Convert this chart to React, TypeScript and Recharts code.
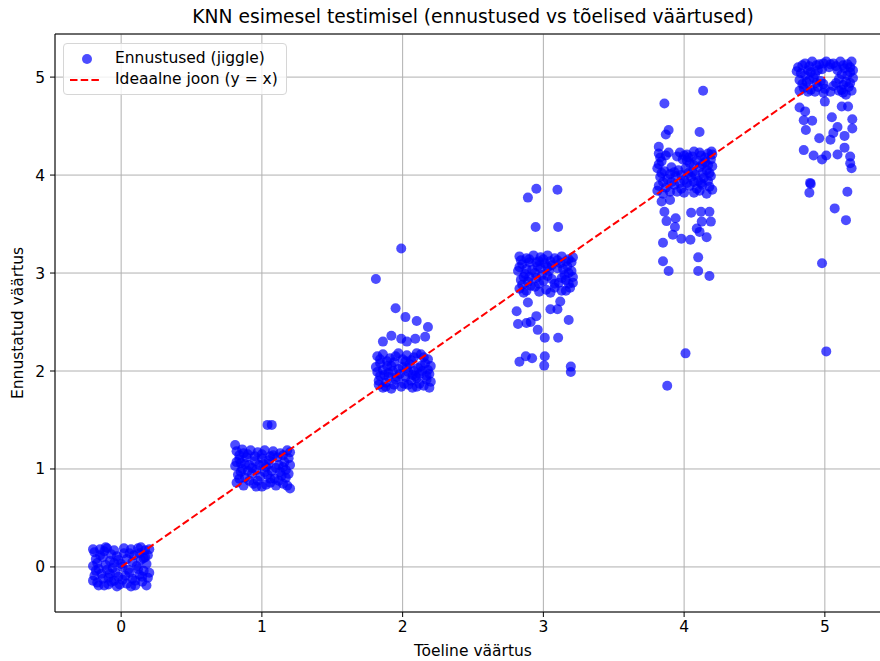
// KNN scatter: predicted vs actual values with jiggle, plus ideal y = x line

import { ScatterChart, Scatter, XAxis, YAxis, CartesianGrid, ReferenceLine } from "recharts";

const xTicks = [0, 1, 2, 3, 4, 5];
const yTicks = [0, 1, 2, 3, 4, 5];

// [actual + jiggle, predicted + jiggle] per true class
const group0: [number, number][] = [
  [-0.19, 0.15], [-0.15, 0.18], [-0.1, 0.19], [-0.05, 0.17], [0.02, 0.19], [0.07, 0.18], [0.12, 0.19], [0.17, 0.17], [0.19, 0.12],
  [-0.18, 0.08], [-0.13, 0.1], [-0.08, 0.06], [-0.03, 0.11], [0.04, 0.08], [0.09, 0.12], [0.14, 0.07], [0.18, 0.03],
  [-0.2, 0.01], [-0.16, -0.02], [-0.11, 0.02], [-0.06, -0.01], [0.0, 0.03], [0.05, -0.03], [0.11, 0.01], [0.16, -0.04],
  [-0.19, -0.09], [-0.14, -0.07], [-0.09, -0.11], [-0.04, -0.06], [0.03, -0.09], [0.08, -0.12], [0.13, -0.08], [0.19, -0.11],
  [-0.17, -0.16], [-0.12, -0.19], [-0.07, -0.15], [-0.01, -0.18], [0.04, -0.17], [0.1, -0.19], [0.15, -0.15], [0.18, -0.19],
  [-0.2, -0.14], [-0.05, 0.04], [0.06, 0.14], [-0.15, 0.12], [0.12, -0.02], [-0.1, -0.03], [0.01, -0.13], [0.17, 0.1], [-0.03, -0.2],
  [-0.17, 0.04], [-0.12, 0.16], [-0.07, 0.13], [-0.02, 0.07], [0.02, 0.14], [0.08, 0.05], [0.13, 0.14], [0.16, 0.09],
  [-0.18, -0.04], [-0.13, -0.12], [-0.08, -0.07], [-0.02, -0.1], [0.06, -0.06], [0.1, -0.14], [0.15, -0.1], [0.2, -0.06],
  [-0.16, -0.19], [-0.09, -0.18], [0.07, -0.2], [0.2, 0.18], [-0.2, 0.18], [0.01, 0.0], [-0.05, -0.14], [0.14, 0.2], [-0.11, 0.2],
];

const group1: [number, number][] = [
  [0.82, 1.18], [0.87, 1.16], [0.92, 1.19], [0.97, 1.17], [1.02, 1.19], [1.08, 1.18], [1.13, 1.16], [1.18, 1.19],
  [0.84, 1.1], [0.89, 1.12], [0.95, 1.08], [1.0, 1.11], [1.05, 1.09], [1.11, 1.12], [1.16, 1.07], [1.19, 1.11],
  [0.81, 1.03], [0.86, 1.0], [0.91, 1.04], [0.96, 0.99], [1.03, 1.02], [1.07, 0.98], [1.12, 1.04], [1.17, 0.99],
  [0.83, 0.94], [0.88, 0.91], [0.93, 0.95], [0.99, 0.92], [1.04, 0.94], [1.09, 0.9], [1.14, 0.93], [1.19, 0.95],
  [0.82, 0.86], [0.87, 0.83], [0.94, 0.85], [1.0, 0.82], [1.06, 0.86], [1.1, 0.83], [1.15, 0.85], [1.2, 0.8],
  [0.9, 0.98], [1.01, 1.05], [0.85, 1.06], [1.13, 0.97], [0.97, 0.88], [1.08, 1.14],
  [0.84, 1.14], [0.9, 1.15], [0.95, 1.13], [1.0, 1.15], [1.06, 1.13], [1.15, 1.14], [0.82, 1.07], [0.88, 1.05],
  [0.93, 1.01], [0.98, 1.04], [1.05, 1.05], [1.1, 1.01], [1.15, 1.02], [1.2, 1.04], [0.85, 0.97], [0.91, 0.88],
  [1.02, 0.97], [1.06, 0.9], [1.12, 0.88], [1.17, 0.91], [0.84, 0.9], [0.96, 0.82], [1.03, 0.84], [1.18, 0.83],
  [1.2, 1.17], [0.86, 1.2],
  [0.81, 1.245], [1.04, 1.45], [1.07, 1.45],
];

const group2: [number, number][] = [
  [1.82, 2.15], [1.86, 2.17], [1.91, 2.13], [1.97, 2.18], [2.03, 2.16], [2.08, 2.14], [2.13, 2.17], [2.18, 2.12],
  [1.84, 2.08], [1.89, 2.05], [1.94, 2.09], [2.0, 2.04], [2.05, 2.07], [2.11, 2.03], [2.16, 2.08], [2.2, 2.05],
  [1.82, 1.99], [1.87, 1.96], [1.93, 2.0], [1.98, 1.97], [2.04, 1.99], [2.09, 1.95], [2.14, 2.0], [2.19, 1.97],
  [1.83, 1.9], [1.88, 1.88], [1.95, 1.91], [2.01, 1.87], [2.06, 1.9], [2.12, 1.87], [2.17, 1.91],
  [1.86, 1.83], [1.92, 1.82], [1.99, 1.84], [2.07, 1.83], [2.15, 1.85], [2.19, 1.83],
  [1.9, 1.94], [2.02, 2.1], [2.1, 1.93],
  [1.84, 2.12], [1.89, 2.1], [1.95, 2.15], [2.0, 2.12], [2.06, 2.11], [2.1, 2.18], [2.15, 2.14], [1.81, 2.04],
  [1.86, 2.01], [1.92, 2.05], [1.97, 2.02], [2.03, 2.03], [2.08, 2.0], [2.13, 2.05], [2.18, 2.01], [1.84, 1.95],
  [1.9, 1.98], [1.96, 1.94], [2.02, 1.94], [2.07, 1.96], [2.12, 1.97], [2.17, 1.95], [1.83, 1.86], [1.94, 1.86],
  [2.04, 1.86], [2.1, 1.84], [2.2, 1.89], [1.88, 1.84],
  [1.99, 3.25], [1.81, 2.94], [1.95, 2.64], [2.02, 2.55], [2.1, 2.51], [2.18, 2.45],
  [1.86, 2.3], [1.92, 2.36], [1.99, 2.33], [2.03, 2.3], [2.09, 2.33], [2.16, 2.35],
];

const group3: [number, number][] = [
  [2.83, 3.17], [2.88, 3.15], [2.93, 3.18], [2.98, 3.16], [3.03, 3.18], [3.08, 3.15], [3.13, 3.17], [3.18, 3.14],
  [2.85, 3.09], [2.9, 3.11], [2.96, 3.07], [3.01, 3.1], [3.06, 3.08], [3.12, 3.1], [3.17, 3.07], [3.2, 3.11],
  [2.82, 3.02], [2.87, 2.99], [2.92, 3.03], [2.99, 2.98], [3.04, 3.02], [3.15, 2.98], [3.2, 3.02],
  [2.84, 2.93], [2.89, 2.91], [2.95, 2.95], [3.0, 2.92], [3.06, 2.94], [3.11, 2.9], [3.16, 2.93], [3.21, 2.9],
  [2.83, 2.84], [2.88, 2.82], [2.94, 2.86], [3.02, 2.83], [3.08, 2.85], [3.13, 2.82], [3.19, 2.85],
  [2.86, 2.96], [2.97, 3.12], [3.1, 3.05], [2.91, 2.87],
  [2.84, 3.13], [2.9, 3.14], [2.95, 3.11], [3.0, 3.14], [3.05, 3.12], [3.1, 3.13], [3.16, 3.12], [3.21, 3.16],
  [2.83, 3.06], [2.88, 3.04], [2.94, 3.0], [2.98, 3.05], [3.03, 3.06], [3.14, 3.04], [3.18, 3.0],
  [2.85, 2.88], [2.9, 2.96], [2.97, 2.89], [3.03, 2.97], [3.08, 2.89], [3.13, 2.95], [3.18, 2.89],
  [2.86, 2.8], [2.97, 2.81], [3.05, 2.8], [3.16, 2.82], [3.21, 2.96],
  [2.95, 3.86], [2.89, 3.77], [3.1, 3.85], [2.945, 3.47], [3.105, 3.47],
  [2.89, 2.7], [3.12, 2.71], [2.81, 2.61], [3.05, 2.63], [3.1, 2.63], [2.95, 2.56], [3.18, 2.52],
  [2.82, 2.48], [2.88, 2.49], [2.91, 2.5], [2.96, 2.42], [3.01, 2.34], [3.105, 2.34],
  [2.83, 2.095], [2.875, 2.15], [2.92, 2.13], [3.01, 2.15], [3.006, 2.055], [3.195, 2.045], [3.195, 1.99],
];

const group4: [number, number][] = [
  [3.82, 4.22], [3.87, 4.2], [3.97, 4.23], [4.02, 4.21], [4.07, 4.24], [4.12, 4.2], [4.17, 4.22],
  [3.84, 4.14], [3.99, 4.16], [4.04, 4.12], [4.09, 4.15], [4.15, 4.13], [4.19, 4.16],
  [3.81, 4.07], [3.86, 4.04], [3.91, 4.08], [3.96, 4.05], [4.01, 4.07], [4.06, 4.03], [4.11, 4.08], [4.16, 4.05], [4.2, 4.09],
  [3.83, 3.98], [3.88, 3.96], [3.94, 3.99], [4.0, 3.95], [4.05, 3.98], [4.1, 3.94], [4.14, 3.97], [4.19, 3.99],
  [3.82, 3.89], [3.87, 3.87], [3.93, 3.9], [3.98, 3.86], [4.04, 3.89], [4.09, 3.86], [4.13, 3.9], [4.18, 3.88],
  [3.85, 3.81], [3.95, 3.83], [4.07, 3.82], [4.16, 3.81], [3.9, 4.01], [4.03, 4.18],
  [3.83, 4.18], [3.89, 4.23], [3.95, 4.19], [4.0, 4.2], [4.06, 4.19], [4.11, 4.23], [4.15, 4.18], [4.2, 4.21],
  [3.82, 4.11], [4.02, 4.15], [4.07, 4.1], [4.13, 4.11], [4.17, 4.1], [3.84, 4.02], [3.93, 4.03],
  [3.98, 4.0], [4.03, 4.02], [4.08, 4.0], [4.13, 4.02], [4.18, 4.02], [3.85, 3.93], [3.91, 3.93], [3.97, 3.92],
  [4.02, 3.92], [4.07, 3.93], [4.12, 3.92], [4.17, 3.94], [3.9, 3.83], [4.0, 3.82], [4.11, 3.84], [4.2, 3.85], [3.81, 3.84],
  [4.135, 4.86], [3.86, 4.73], [3.89, 4.46], [3.87, 4.415], [4.11, 4.44], [3.82, 4.29], [4.195, 4.24],
  [3.84, 3.73], [3.9, 3.745], [3.86, 3.625], [3.875, 3.53], [3.94, 3.56], [3.935, 3.47], [3.92, 3.39],
  [3.98, 3.35], [4.045, 3.34], [4.05, 3.615], [4.12, 3.625], [4.18, 3.625], [4.125, 3.525], [4.19, 3.525],
  [4.09, 3.455], [4.11, 3.42], [4.16, 3.365], [3.85, 3.31], [3.85, 3.12], [3.89, 3.02],
  [4.1, 3.16], [4.1, 3.02], [4.18, 2.97], [4.01, 2.18], [3.88, 1.85],
];

const group5: [number, number][] = [
  [4.81, 5.1], [4.86, 5.14], [4.91, 5.16], [4.96, 5.13], [5.01, 5.16], [5.06, 5.14], [5.11, 5.16], [5.16, 5.13], [5.19, 5.16],
  [4.83, 5.04], [4.88, 5.07], [4.93, 5.03], [4.98, 5.08], [5.03, 5.1], [5.09, 5.07], [5.14, 5.09], [5.18, 5.05],
  [4.82, 4.97], [4.87, 4.95], [4.92, 4.99], [4.97, 4.96], [5.1, 4.98], [5.15, 4.95], [5.2, 4.99],
  [4.85, 4.89], [4.9, 4.87], [4.95, 4.9], [5.0, 4.88], [5.06, 4.91], [5.12, 4.87], [5.17, 4.9],
  [4.88, 4.85], [4.99, 4.84], [5.13, 4.84],
  [4.84, 5.12], [4.89, 5.11], [4.94, 5.12], [4.99, 5.14], [5.04, 5.13], [5.08, 5.11], [5.13, 5.12], [5.18, 5.1],
  [4.8, 5.06], [4.86, 5.02], [4.9, 5.05], [4.95, 5.07], [5.12, 5.03], [5.16, 5.02], [5.2, 5.07],
  [4.84, 4.93], [4.89, 4.97], [4.94, 4.94], [4.99, 4.93], [5.08, 4.94], [5.13, 4.92], [5.18, 4.94],
  [4.82, 4.86], [4.93, 4.85], [5.04, 4.85], [5.1, 4.86], [5.19, 4.86], [5.15, 4.82],
  [4.82, 4.69], [4.86, 4.65], [4.85, 4.56], [4.91, 4.555], [4.865, 4.46], [5.0, 4.75], [5.12, 4.7],
  [5.165, 4.7], [5.05, 4.59], [5.195, 4.57], [5.09, 4.49], [5.195, 4.475], [5.06, 4.43], [5.14, 4.4],
  [4.96, 4.375], [5.04, 4.36], [4.85, 4.255], [4.92, 4.2], [4.98, 4.16], [5.01, 4.2], [5.09, 4.21],
  [5.14, 4.28], [5.18, 4.19], [5.18, 4.12], [5.19, 4.07], [4.895, 3.92], [4.9, 3.91], [4.89, 3.82],
  [5.16, 3.83], [5.07, 3.66], [5.15, 3.54], [4.98, 3.1], [5.01, 2.2],
];

const idealX = [0, 5];

const points = [...group0, ...group1, ...group2, ...group3, ...group4, ...group5].map(([x, y]) => ({ x, y }));
const idealLine = idealX.map((v) => ({ x: v, y: v }));

const FONT = "'DejaVu Sans', sans-serif";
const DASH = "7.5 3.2";
const LABEL_SIZE = 15.5;

const Dot = (props: any) => (
  <circle cx={props.cx} cy={props.cy} r={5} fill="#0000ff" fillOpacity={0.7} />
);

export default function App() {
  return (
    <div
      style={{
        position: "absolute",
        left: 0,
        top: 0,
        width: 880,
        height: 661,
        overflow: "hidden",
        background: "#fff",
        fontFamily: FONT,
      }}
    >
      <ScatterChart width={891} height={661} margin={{ top: 34, right: 0, bottom: 0, left: 0 }}>
        <CartesianGrid stroke="#b0b0b0" strokeWidth={1} />
        <XAxis
          type="number"
          dataKey="x"
          domain={[-0.47, 5.47]}
          ticks={xTicks}
          height={49}
          axisLine={{ stroke: "#000" }}
          tickLine={{ stroke: "#000" }}
          tickSize={5}
          tickMargin={4}
          tick={{ fontSize: LABEL_SIZE, fill: "#000", fontFamily: FONT }}
          allowDataOverflow
        />
        <YAxis
          type="number"
          dataKey="y"
          domain={[-0.46, 5.44]}
          ticks={yTicks}
          width={55}
          axisLine={{ stroke: "#000" }}
          tickLine={{ stroke: "#000" }}
          tickSize={5}
          tickMargin={5}
          tick={{ fontSize: LABEL_SIZE, fill: "#000", fontFamily: FONT }}
          allowDataOverflow
        />
        <ReferenceLine y={5.44} stroke="#000" strokeWidth={1} />
        <Scatter data={points} shape={Dot} isAnimationActive={false} />
        <Scatter
          data={idealLine}
          line={{ stroke: "#ff0000", strokeWidth: 2, strokeDasharray: DASH }}
          shape={() => <g />}
          isAnimationActive={false}
        />
      </ScatterChart>

      {/* title and axis labels */}
      <div style={{ position: "absolute", left: 123, width: 700, top: 6, textAlign: "center", fontSize: 18.7, color: "#000" }}>
        KNN esimesel testimisel (ennustused vs tõelised väärtused)
      </div>
      <div style={{ position: "absolute", left: 273, width: 400, top: 642, textAlign: "center", fontSize: LABEL_SIZE, color: "#000" }}>
        Tõeline väärtus
      </div>
      <div
        style={{
          position: "absolute",
          left: 18,
          top: 323,
          transform: "translate(-50%, -50%) rotate(-90deg)",
          whiteSpace: "nowrap",
          fontSize: LABEL_SIZE,
          color: "#000",
        }}
      >
        Ennustatud väärtus
      </div>

      {/* legend */}
      <div
        style={{
          position: "absolute",
          left: 63,
          top: 43,
          width: 222,
          height: 50,
          border: "1px solid #d6d6d6",
          borderRadius: 4,
          background: "rgba(255,255,255,0.8)",
          fontSize: LABEL_SIZE,
          color: "#000",
        }}
      >
        <svg width={40} height={50} style={{ position: "absolute", left: 0, top: 0 }}>
          <circle cx={23} cy={15} r={5} fill="#0000ff" fillOpacity={0.7} />
          <line x1={6} x2={37} y1={36} y2={36} stroke="#ff0000" strokeWidth={2} strokeDasharray={DASH} />
        </svg>
        <div style={{ position: "absolute", left: 51, top: 5, whiteSpace: "nowrap" }}>Ennustused (jiggle)</div>
        <div style={{ position: "absolute", left: 51, top: 26, whiteSpace: "nowrap" }}>Ideaalne joon (y = x)</div>
      </div>
    </div>
  );
}
